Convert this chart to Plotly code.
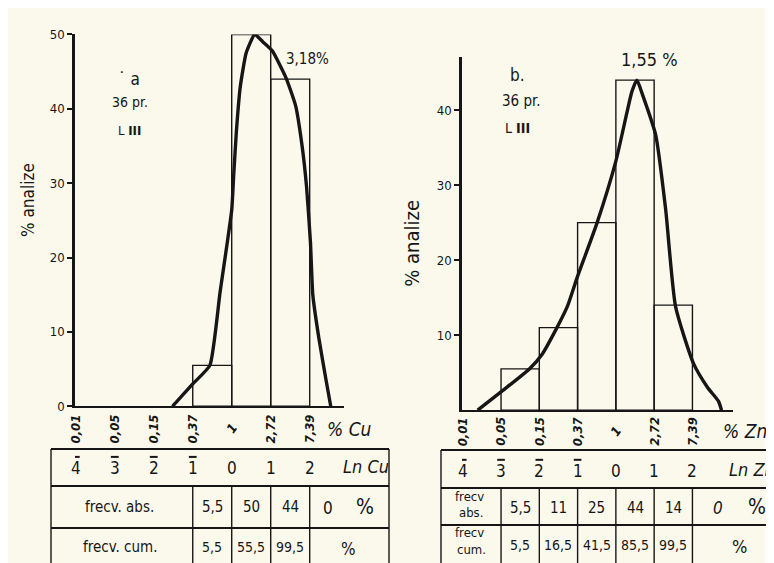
import plotly.graph_objects as go

# ---------------- data ----------------
ln_ticks = [-4, -3, -2, -1, 0, 1, 2]
pct_tick_labels = ["0,01", "0,05", "0,15", "0,37", "1", "2,72", "7,39"]
ln_row_labels = ["4", "3", "2", "1", "0", "1", "2"]

cu_bar_ln = [-0.5, 0.5, 1.5]
cu_abs = [5.5, 50, 44]
cu_abs_text = ["5,5", "50", "44"]
cu_cum_text = ["5,5", "55,5", "99,5"]
cu_curve_ln = [-1.52, -1.0, -0.56, -0.3, 0.0, 0.05, 0.12, 0.22, 0.37, 0.59,
               0.8, 1.04, 1.39, 1.64, 1.8, 1.92, 2.02, 2.08, 2.24, 2.41, 2.54]
cu_curve_val = [0, 3.0, 5.5, 15.3, 26.4, 31, 37, 43, 47.5, 50,
                49.0, 47.8, 44.2, 40.4, 35.2, 29.5, 22, 15, 9, 3.8, 0]

zn_bar_ln = [-2.5, -1.5, -0.5, 0.5, 1.5]
zn_abs = [5.5, 11, 25, 44, 14]
zn_abs_text = ["5,5", "11", "25", "44", "14"]
zn_cum_text = ["5,5", "16,5", "41,5", "85,5", "99,5"]
zn_curve_ln = [-3.61, -2.96, -2.26, -1.92, -1.56, -1.27, -1.01, -0.49, 0.0, 0.29, 0.42, 0.55,
               0.7, 1.04, 1.3, 1.56, 2.03, 2.4, 2.68, 2.76]
zn_curve_val = [0, 2.6, 5.5, 7.5, 10.8, 13.8, 17.7, 25, 33.2, 39.7, 42.5, 44,
                42, 36.7, 26.8, 13.8, 6.2, 3, 1.2, 0]

# ---------------- styling ----------------
W, H = 774, 563
BG = "#fbf9ec"
INK = "#161616"
FONT = "DejaVu Sans Condensed, DejaVu Sans, sans-serif"


def X(px):
    return px / W


def Y(py):
    return 1 - py / H


fig = go.Figure()

# bars
fig.add_trace(go.Bar(x=cu_bar_ln, y=cu_abs, width=1, xaxis="x", yaxis="y",
                     marker=dict(color="rgba(0,0,0,0)", line=dict(color=INK, width=1.4))))
fig.add_trace(go.Bar(x=zn_bar_ln, y=zn_abs, width=1, xaxis="x2", yaxis="y2",
                     marker=dict(color="rgba(0,0,0,0)", line=dict(color=INK, width=1.4))))
# curves
fig.add_trace(go.Scatter(x=cu_curve_ln, y=cu_curve_val, mode="lines", xaxis="x", yaxis="y",
                         line=dict(color=INK, width=3.4, shape="spline", smoothing=0.45),
                         cliponaxis=False))
fig.add_trace(go.Scatter(x=zn_curve_ln, y=zn_curve_val, mode="lines", xaxis="x2", yaxis="y2",
                         line=dict(color=INK, width=3.4, shape="spline", smoothing=0.55),
                         cliponaxis=False))

axis_common = dict(showgrid=False, zeroline=False, showline=True, linecolor=INK)
tickfont = dict(size=13, family=FONT, color=INK)

fig.update_layout(
    width=W, height=H, margin=dict(l=0, r=0, t=0, b=0),
    paper_bgcolor=BG, plot_bgcolor="rgba(0,0,0,0)", showlegend=False,
    barmode="overlay",
    font=dict(family=FONT, color=INK),
    xaxis=dict(domain=[X(67), X(336)], range=[-4.02, 2.88], anchor="y",
               showticklabels=False, ticks="", linewidth=2, **axis_common),
    yaxis=dict(domain=[Y(402), Y(20)], range=[0, 50], anchor="x",
               tickvals=[0, 10, 20, 30, 40, 50], ticks="outside", ticklen=5, tickwidth=1.5,
               tickcolor=INK, tickfont=tickfont, linewidth=2.5, **axis_common),
    xaxis2=dict(domain=[X(454), X(725)], range=[-4.02, 3.06], anchor="y2",
                showticklabels=False, ticks="", linewidth=2, **axis_common),
    yaxis2=dict(domain=[Y(406), Y(43)], range=[0, 47.1], anchor="x2",
                tickvals=[10, 20, 30, 40], ticks="outside", ticklen=5, tickwidth=1.5,
                tickcolor=INK, tickfont=tickfont, linewidth=2.5, **axis_common),
)

ann = []


def text(x, y, s, size=13, xref="paper", angle=0, italic=False, bold=False, xanchor="center"):
    if bold:
        s = "<b>" + s + "</b>"
    if italic:
        s = "<i>" + s + "</i>"
    ann.append(dict(x=x, y=Y(y), xref=xref, yref="paper", text=s, showarrow=False,
                    textangle=angle, xanchor=xanchor, yanchor="middle",
                    font=dict(size=size, family=FONT, color=INK)))


# y-axis titles
text(X(20), 190, "% analize", size=17, angle=-90)
text(X(404), 235, "% analize", size=20, angle=-90)

# panel labels
text(X(121), 66, "\u02d9 a", size=17)
text(X(122), 89, "36 pr.", size=14)
text(X(121), 119, "L <b>III</b>", size=13)
text(X(510), 62, "b.", size=17)
text(X(513), 88, "36 pr.", size=15)
text(X(510), 116, "L <b>III</b>", size=14)
text(X(299), 45, "3,18%", size=15)
text(X(641), 46, "1,55 %", size=18)

# x tick labels (rotated) in data coords
for xref, ycen in (("x", 425), ("x2", 428)):
    for v, lab in zip(ln_ticks, pct_tick_labels):
        ang = -55 if lab == "1" else -90
        text(v, ycen, lab, size=13, xref=xref, angle=ang, italic=True, bold=True)
text(X(341), 425, "% Cu", size=19, italic=True)
text(X(737), 427, "% Zn", size=19, italic=True)

# ln rows
for v, lab in zip(ln_ticks, ln_row_labels):
    text(v, 465, lab, size=17, xref="x")
    text(v, 468, lab, size=17, xref="x2")
text(X(358), 464, "Ln Cu", size=18, italic=True)
text(X(744), 467, "Ln Zn", size=18, italic=True)

# frequency rows - left
text(X(112), 505, "frecv. abs.", size=15)
text(X(112), 547, "frecv. cum.", size=15)
for v, a, c in zip(cu_bar_ln, cu_abs_text, cu_cum_text):
    text(v, 505, a, size=15, xref="x")
    text(v, 547, c, size=14, xref="x")
text(X(320), 507, "0", size=17)
text(X(357), 505, "%", size=21)
text(X(340), 549, "%", size=17)

# frequency rows - right
text(X(461), 495, "frecv", size=13)
text(X(463), 511, "abs.", size=13)
text(X(461), 532, "frecv", size=13)
text(X(463), 549, "cum.", size=13)
for v, a, c in zip(zn_bar_ln, zn_abs_text, zn_cum_text):
    text(v, 506, a, size=15, xref="x2")
    text(v, 544, c, size=14, xref="x2")
text(X(710), 507, "0", size=17, italic=True)
text(X(749), 505, "%", size=21)
text(X(731), 546, "%", size=18)

fig.update_layout(annotations=ann)

# table lines
shapes = []


def hline(x0, x1, y, w=1.6):
    shapes.append(dict(type="line", xref="paper", yref="paper", x0=X(x0), x1=X(x1),
                       y0=Y(y), y1=Y(y), line=dict(color=INK, width=w)))


def vline(x, y0, y1, xref="paper", w=1.4):
    xv = X(x) if xref == "paper" else x
    shapes.append(dict(type="line", xref=xref, yref="paper", x0=xv, x1=xv,
                       y0=Y(y0), y1=Y(y1), line=dict(color=INK, width=w)))


def overbar(v, xref, y):
    shapes.append(dict(type="line", xref=xref, yref="paper", x0=v - 0.1, x1=v + 0.1,
                       y0=Y(y), y1=Y(y), line=dict(color=INK, width=2)))


# negative-characteristic overbars
for v in ln_ticks:
    if v < 0:
        overbar(v, "x", 454)
        overbar(v, "x2", 457)

# left table
hline(43, 381, 446, 2)
hline(43, 381, 484, 2)
hline(43, 381, 527, 2)
vline(43, 446, 563)
vline(381, 446, 563)
for v in [-1, 0, 1, 2]:
    vline(v, 484, 563, xref="x")
# right table
hline(433, 774, 447, 2)
hline(433, 774, 486, 2)
hline(433, 774, 524, 2)
vline(433, 447, 563)
vline(772, 447, 563)
for v in [-3, -2, -1, 0, 1, 2]:
    vline(v, 486, 563, xref="x2")

fig.update_layout(shapes=shapes)

fig.write_html("out.html")
